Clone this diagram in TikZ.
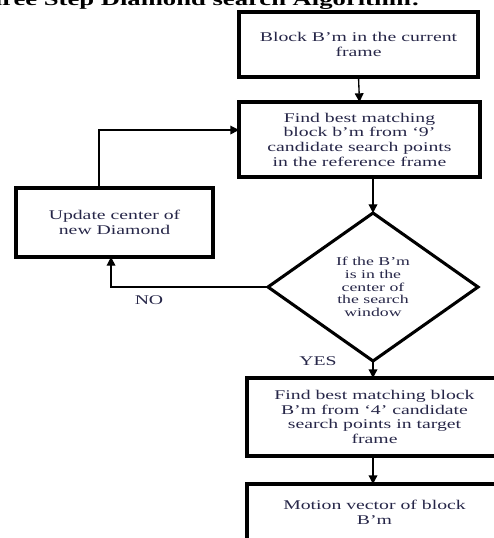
\documentclass[tikz,border=0pt]{standalone}
\usepackage{fontspec}
\setmainfont[FakeStretch=1.48]{Liberation Serif}
\usetikzlibrary{shapes.geometric,arrows.meta,calc}
\definecolor{txt}{RGB}{38,38,72}
\begin{document}
\begin{tikzpicture}[x=0.75pt,y=-0.75pt,
  every node/.style={inner sep=0pt,outer sep=0pt},
  stepbox/.style={draw=black,line width=2.3pt,align=center,text=txt,
    font=\fontsize{10}{11}\selectfont},
  decision/.style={draw=black,line width=2.3pt,diamond,aspect=1.42,align=center,
    text=txt,font=\fontsize{9}{9.6}\selectfont},
  flow/.style={draw=black,line width=1pt,-{Triangle[length=6.5pt,width=6.5pt]}},
  lbl/.style={text=txt,font=\fontsize{10}{11}\selectfont}]
\useasboundingbox (0,0) rectangle (493,538);

% heading, partly outside the page
\node[anchor=base east,font=\fontsize{13.5}{15}\selectfont\bfseries]
  (title) at (420,6) {Three Step Diamond search Algorithm:};

% process boxes
\node[stepbox,minimum width=179.25pt,minimum height=48.75pt]
  (b1) at (358.5,44.5) {Block B’m in the current\\frame};
\node[stepbox,minimum width=180.75pt,minimum height=56.25pt]
  (b2) at (359.5,139.5) {Find best matching\\block b’m from ‘9’\\candidate search points\\in the reference frame};
\node[stepbox,minimum width=147.75pt,minimum height=51.75pt]
  (b3) at (114.5,222.5) {Update center of\\new Diamond};
\node[stepbox,minimum width=191.25pt,minimum height=58.5pt]
  (b4) at (374.5,417) {Find best matching block\\B’m from ‘4’ candidate\\search points in target\\frame};
\node[stepbox,minimum width=191.25pt,minimum height=42.75pt]
  (b5) at (374.5,512.5) {Motion vector of block\\B’m};

% decision
\node[decision,minimum width=157.5pt,minimum height=111pt]
  (d) at (373,287) {If the B’m\\is in the\\center of\\the search\\window};

% branch labels
\node[lbl] (no) at (149,300) {NO};
\node[lbl] (yes) at (318,361) {YES};

% connectors
\draw[flow] (b1.south) -- (b2.north);
\draw[flow] (b2.south -| d.north) -- (d.north);
\draw[flow] (d.west) -| ([xshift=-2.6pt]b3.south);
\draw[flow] ([xshift=-11.6pt]b3.north) |- ([yshift=7.1pt]b2.west);
\draw[flow] (d.south) -- (d.south |- b4.north);
\draw[flow] (d.south |- b4.south) -- (d.south |- b5.north);
\end{tikzpicture}
\end{document}
